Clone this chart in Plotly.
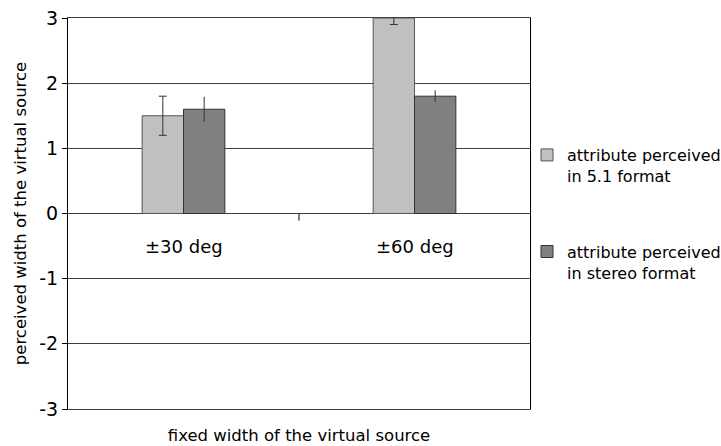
import plotly.graph_objects as go

categories = ["±30 deg", "±60 deg"]
series_names = ["attribute perceived<br>in 5.1 format", "attribute perceived<br>in stereo format"]
values_51 = [1.5, 3.0]
errors_51 = [0.3, 0.1]
values_stereo = [1.6, 1.8]
errors_stereo = [0.19, 0.09]
y_ticks = [-3, -2, -1, 0, 1, 2, 3]

FONT = "DejaVu Sans"

fig = go.Figure()
fig.add_trace(go.Bar(
    x=categories, y=values_51, name=series_names[0],
    marker=dict(color="#C0C0C0", line=dict(color="#555555", width=1)),
    error_y=dict(type="data", array=errors_51, color="#333333", thickness=1, width=4),
    legendgroup="a",
))
fig.add_trace(go.Bar(
    x=categories, y=values_stereo, name=series_names[1],
    marker=dict(color="#808080", line=dict(color="#333333", width=1)),
    error_y=dict(type="data", array=errors_stereo, color="#333333", thickness=1, width=0),
    legendgroup="b",
))

# category labels just below the zero line
for c in categories:
    fig.add_annotation(x=c, y=0, xref="x", yref="y", text=c, showarrow=False,
                       yshift=-33, font=dict(family=FONT, size=18, color="#000"))

# separator tick between categories
fig.add_shape(type="line", xref="x", yref="y", x0=0.5, x1=0.5, y0=0, y1=-0.11,
              line=dict(color="#000", width=1))

fig.update_layout(
    width=721, height=446,
    margin=dict(l=68, r=191, t=18, b=37, autoexpand=False),
    paper_bgcolor="white", plot_bgcolor="white",
    barmode="group", bargap=0.642, bargroupgap=0,
    font=dict(family=FONT, color="#000"),
    showlegend=True,
    legend=dict(xref="container", yref="container",
                x=527 / 721, xanchor="left", y=1 - 138 / 446, yanchor="top",
                traceorder="grouped", tracegroupgap=52, valign="top",
                bgcolor="rgba(0,0,0,0)",
                font=dict(family=FONT, size=16, color="#000"),
                itemwidth=30),
    xaxis=dict(showticklabels=False, ticks="", showgrid=False, zeroline=False,
               showline=True, mirror=True, linecolor="#404040", linewidth=1,
               range=[-0.5, 1.5], automargin=False,
               title=dict(text="fixed width of the virtual source",
                          font=dict(family=FONT, size=16.5), standoff=20)),
    yaxis=dict(range=[-3, 3], tickvals=y_ticks, ticktext=[str(v) for v in y_ticks],
               ticks="outside", ticklen=5, automargin=False,
               tickcolor="#000", showline=True, linecolor="#000", mirror=True,
               showgrid=True, gridcolor="#404040", gridwidth=1,
               zeroline=False, tickfont=dict(family=FONT, size=19),
               title=dict(text="perceived width of the virtual source",
                          font=dict(family=FONT, size=16.5), standoff=8)),
)

fig.write_html("out.html", config={"displayModeBar": False},
               post_script="document.body.style.margin='0';")
